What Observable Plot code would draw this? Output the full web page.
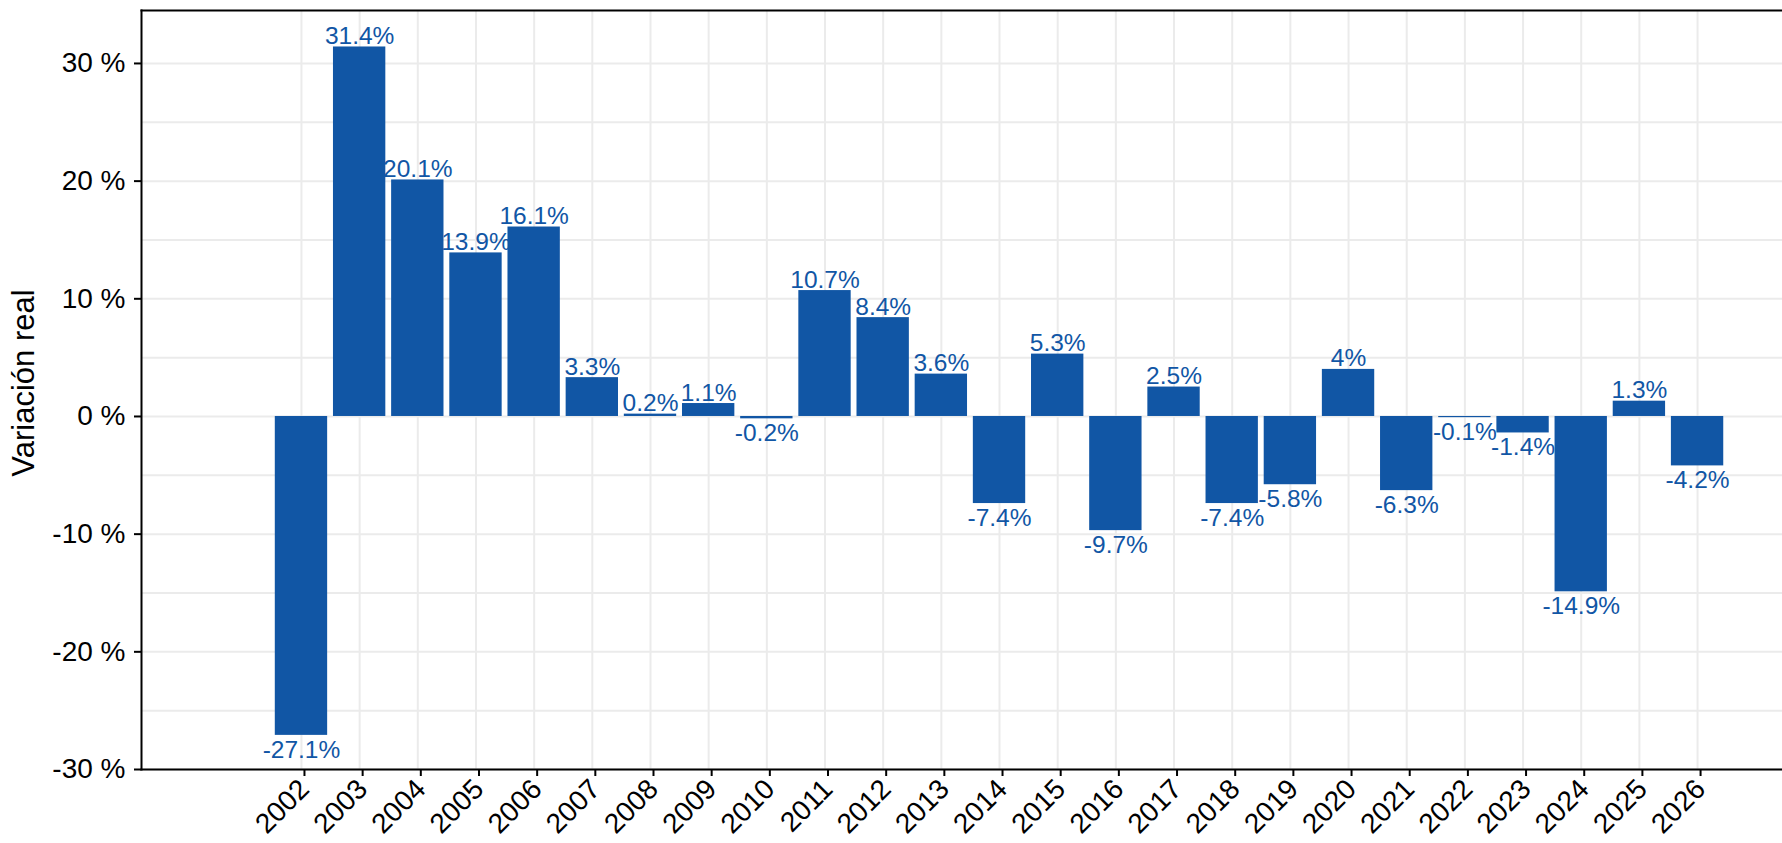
<!DOCTYPE html>
<html><head><meta charset="utf-8">
<script src="https://cdn.jsdelivr.net/npm/d3@7"></script>
<script src="https://cdn.jsdelivr.net/npm/@observablehq/plot@0.6"></script>
<style>body{margin:0;background:#fff}</style>
</head><body><div id="chart"></div>
<script>
const years = [2002,2003,2004,2005,2006,2007,2008,2009,2010,2011,2012,2013,2014,2015,2016,2017,2018,2019,2020,2021,2022,2023,2024,2025,2026];
const values = [-27.1,31.4,20.1,13.9,16.1,3.3,0.2,1.1,-0.2,10.7,8.4,3.6,-7.4,5.3,-9.7,2.5,-7.4,-5.8,4,-6.3,-0.1,-1.4,-14.9,1.3,-4.2];
const yTicks = [-30,-20,-10,0,10,20,30];
const yGrid = [-30,-25,-20,-15,-10,-5,0,5,10,15,20,25,30];
const yLabel = "Variación real";

const data = years.map((year, i) => ({year, value: values[i], label: values[i] + "%"}));
const blue = "#1156a5";

const chart = Plot.plot({
  width: 1782, height: 843,
  marginLeft: 141, marginRight: 0, marginTop: 10, marginBottom: 74,
  style: {fontFamily: "'Liberation Sans', Arial, sans-serif", background: "#fff", color: "#000"},
  x: {type: "linear", domain: [1999.25, 2027.46]},
  y: {domain: [-30, 34.5]},
  marks: [
    Plot.gridY(yGrid, {stroke: "#ebebeb", strokeOpacity: 1, strokeWidth: 2}),
    Plot.gridX(years, {stroke: "#ebebeb", strokeOpacity: 1, strokeWidth: 2}),
    Plot.rectY(data, {x1: d => d.year - 0.45, x2: d => d.year + 0.45, y1: d => 0, y2: "value", fill: blue}),
    Plot.text(data.filter(d => d.value >= 0), {x: "year", y: "value", text: "label", lineAnchor: "bottom", dy: -3, fill: blue, fontSize: 24.5}),
    Plot.text(data.filter(d => d.value < 0), {x: "year", y: "value", text: "label", lineAnchor: "top", dy: 5, fill: blue, fontSize: 24.5}),
    Plot.axisY(yTicks, {tickFormat: d => d + " %", tickSize: 7, tickPadding: 9, fontSize: 28, label: null, strokeWidth: 2, fill: "#000"}),
    Plot.axisX(years, {tickFormat: d => String(d), tickRotate: -45, tickSize: 7, tickPadding: 8, dx: 3, fontSize: 28, label: null, strokeWidth: 2, fill: "#000"}),
    Plot.frame({anchor: "top", strokeWidth: 2}),
    Plot.frame({anchor: "left", strokeWidth: 2}),
    Plot.frame({anchor: "bottom", strokeWidth: 2}),
    Plot.text([yLabel], {text: d => d, frameAnchor: "left", textAnchor: "middle", dx: -117, dy: -7, rotate: -90, fontSize: 31, fill: "#000"})
  ]
});
document.getElementById("chart").appendChild(chart);
</script>
</body></html>
